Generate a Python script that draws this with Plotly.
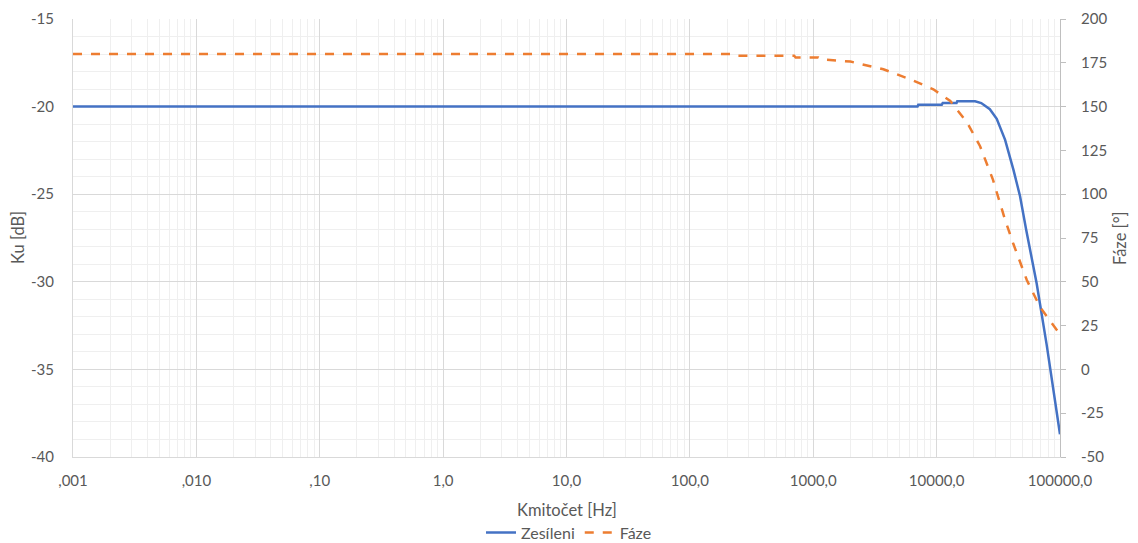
import plotly.graph_objects as go

# ---- data ----
gain_freq = [0.001, 0.01, 0.1, 1, 10, 100, 1000, 7000, 7100, 11000, 11200, 14500, 14700,
             20500, 23000, 27000, 30700, 35900, 41900, 47400, 53100, 64700, 78000, 100000]
gain_db = [-20, -20, -20, -20, -20, -20, -20, -20, -19.9, -19.9, -19.8, -19.8, -19.7,
           -19.7, -19.8, -20.15, -20.7, -21.9, -23.6, -25.1, -27.0, -30.1, -33.6, -38.7]

phase_freq = [0.001, 0.01, 0.1, 1, 10, 100, 220, 230, 700, 720, 1100, 1150, 2000, 3700,
              6100, 9400, 12900, 17700, 22500, 28600, 35900, 41700, 53800, 68900, 100000]
phase_deg = [180, 180, 180, 180, 180, 180, 180, 179, 179, 178, 178, 177, 175.7, 171.3,
             165.6, 159.9, 153.2, 140.8, 127.4, 108.3, 85.3, 72, 51, 35.6, 20]

x_tickvals = [0.001, 0.01, 0.1, 1, 10, 100, 1000, 10000, 100000]
x_ticktext = [",001", ",010", ",10", "1,0", "10,0", "100,0", "1000,0", "10000,0", "100000,0"]

y_tickvals = [-40, -35, -30, -25, -20, -15]
y_ticktext = ["-40", "-35", "-30", "-25", "-20", "-15"]

y2_tickvals = [-50, -25, 0, 25, 50, 75, 100, 125, 150, 175, 200]
y2_ticktext = ["-50", "-25", "0", "25", "50", "75", "100", "125", "150", "175", "200"]

x_title = "Kmitočet [Hz]"
y_title = "Ku [dB]"
y2_title = "Fáze [°]"

minor_x = [m * 10.0 ** e for e in range(-3, 5) for m in range(2, 10)]

FONT = "Lato"
TXT = "#595959"

fig = go.Figure()
fig.add_trace(go.Scatter(x=gain_freq, y=gain_db, name="Zesíleni", mode="lines",
                         line=dict(color="#4472C4", width=2.5)))
fig.add_trace(go.Scatter(x=phase_freq, y=phase_deg, name="Fáze", mode="lines",
                         yaxis="y2", line=dict(color="#ED7D31", width=2.5, dash="dash")))

fig.update_layout(
    width=1138, height=543,
    margin=dict(l=73, r=78, t=19, b=86),
    paper_bgcolor="white", plot_bgcolor="white",
    font=dict(family=FONT, size=15, color=TXT),
    showlegend=True,
    legend=dict(orientation="h", x=0.5, xanchor="center", xref="container",
                y=0.019, yanchor="middle", yref="container",
                font=dict(size=16, color=TXT), bgcolor="rgba(0,0,0,0)"),
    xaxis=dict(type="log", range=[-3, 5], tickvals=x_tickvals, ticktext=x_ticktext,
               automargin=False, ticklabelstandoff=10,
               showgrid=True, gridcolor="#d9d9d9", gridwidth=1,
               minor=dict(tickvals=minor_x, showgrid=True, gridcolor="#efefef", gridwidth=1),
               showline=True, linecolor="#d9d9d9", linewidth=1, ticks="",
               zeroline=False),
    yaxis=dict(range=[-40, -15], tickvals=y_tickvals, ticktext=y_ticktext,
               automargin=False, ticklabelstandoff=15,
               showgrid=True, gridcolor="#d9d9d9",
               minor=dict(dtick=1, showgrid=True, gridcolor="#efefef", gridwidth=1),
               zeroline=False, showline=True, linecolor="#d9d9d9", linewidth=1, ticks=""),
    yaxis2=dict(range=[-50, 200], tickvals=y2_tickvals, ticktext=y2_ticktext,
                overlaying="y", side="right", automargin=False, ticklabelstandoff=12,
                showgrid=False, zeroline=False, showline=True, linecolor="#bfbfbf",
                ticks="outside", ticklen=5, tickcolor="#bfbfbf"),
    annotations=[
        dict(text=x_title, xref="paper", yref="paper", x=0.5, y=0, xanchor="center",
             yanchor="middle", yshift=-53, showarrow=False,
             font=dict(size=16.5, color=TXT)),
        dict(text=y_title, xref="paper", yref="paper", x=0, y=0.5, xanchor="center",
             yanchor="middle", xshift=-55, textangle=-90, showarrow=False,
             font=dict(size=16.5, color=TXT)),
        dict(text=y2_title, xref="paper", yref="paper", x=1, y=0.5, xanchor="center",
             yanchor="middle", xshift=60, textangle=-90, showarrow=False,
             font=dict(size=16.5, color=TXT)),
    ],
)

fig.write_html("out.html", config={"displayModeBar": False},
               post_script="document.body.style.margin='0';")
